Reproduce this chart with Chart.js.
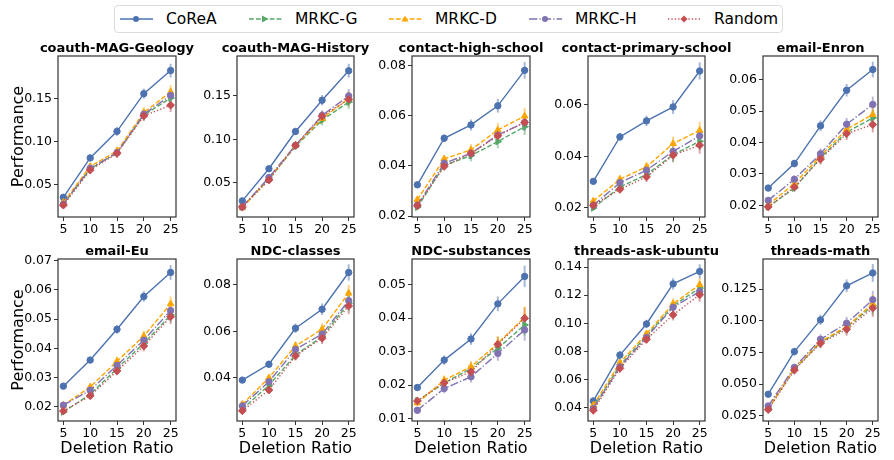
<!DOCTYPE html>
<html>
<head>
<meta charset="utf-8">
<script src="https://cdn.jsdelivr.net/npm/chart.js@4.4.0/dist/chart.umd.min.js"></script>
<style>
  body { margin: 0; width: 894px; height: 460px; overflow: hidden; background: #fff; position: relative; font-family: "DejaVu Sans"; }
  canvas { position: absolute; }
  #legend { position: absolute; left: 114px; top: 5px; width: 669px; height: 28px; border: 1px solid #dcdcdc; border-radius: 4px; box-sizing: border-box; }
  .item { position: absolute; top: 0; height: 26px; line-height: 26px; font-size: 15.5px; color: #000; white-space: nowrap; }
  .item svg { position: absolute; top: 8px; left: 0; }
  .item span { position: absolute; left: 46px; }
</style>
</head>
<body>
<div id="legend"></div>
<script>
const deletionRatios = [5, 10, 15, 20, 25];
const panelNames = ['coauth-MAG-Geology', 'coauth-MAG-History', 'contact-high-school', 'contact-primary-school', 'email-Enron',
                    'email-Eu', 'NDC-classes', 'NDC-substances', 'threads-ask-ubuntu', 'threads-math'];

const coreaVals = [
  [0.035, 0.081, 0.112, 0.156, 0.183],
  [0.029, 0.066, 0.109, 0.145, 0.179],
  [0.0325, 0.051, 0.0563, 0.0639, 0.078],
  [0.0303, 0.0475, 0.0537, 0.0591, 0.073],
  [0.0255, 0.0333, 0.0453, 0.0566, 0.0632],
  [0.0271, 0.036, 0.0465, 0.0577, 0.0659],
  [0.039, 0.0458, 0.0613, 0.0695, 0.0853],
  [0.0193, 0.0275, 0.0338, 0.0443, 0.0525],
  [0.0448, 0.0774, 0.0995, 0.128, 0.1369],
  [0.0421, 0.0757, 0.1007, 0.1276, 0.1377]
];
const mrkcGVals = [
  [0.027, 0.068, 0.087, 0.131, 0.151],
  [0.022, 0.054, 0.092, 0.122, 0.143],
  [0.0236, 0.0402, 0.0441, 0.0497, 0.0556],
  [0.020, 0.0281, 0.0329, 0.0406, 0.0458],
  [0.0195, 0.0255, 0.0351, 0.0433, 0.0478],
  [0.0183, 0.0243, 0.0331, 0.0417, 0.0514],
  [0.0265, 0.0368, 0.0498, 0.0577, 0.0721],
  [0.0153, 0.0207, 0.025, 0.031, 0.038],
  [0.040, 0.0702, 0.091, 0.1124, 0.125],
  [0.0308, 0.0617, 0.0828, 0.0949, 0.1118]
];
const mrkcDVals = [
  [0.029, 0.071, 0.089, 0.134, 0.158],
  [0.021, 0.055, 0.093, 0.124, 0.147],
  [0.0266, 0.0428, 0.0464, 0.0543, 0.0598],
  [0.0227, 0.0311, 0.0359, 0.0449, 0.050],
  [0.0202, 0.0269, 0.0357, 0.0442, 0.0489],
  [0.0206, 0.0268, 0.0356, 0.0442, 0.0552],
  [0.0286, 0.040, 0.0537, 0.0609, 0.0764],
  [0.0147, 0.0215, 0.0255, 0.0325, 0.0403],
  [0.0417, 0.0719, 0.0924, 0.1138, 0.1274],
  [0.0308, 0.0625, 0.0836, 0.0954, 0.1134]
];
const mrkcHVals = [
  [0.027, 0.069, 0.087, 0.132, 0.154],
  [0.022, 0.056, 0.093, 0.1275, 0.150],
  [0.0244, 0.0411, 0.045, 0.0523, 0.0573],
  [0.021, 0.0298, 0.0346, 0.0419, 0.0479],
  [0.0216, 0.0283, 0.0364, 0.0458, 0.0521],
  [0.0206, 0.0257, 0.0342, 0.0428, 0.0529],
  [0.0279, 0.0383, 0.0522, 0.0588, 0.0732],
  [0.0125, 0.019, 0.0225, 0.0295, 0.0365],
  [0.0393, 0.069, 0.090, 0.1114, 0.1226],
  [0.0329, 0.0632, 0.0854, 0.0981, 0.1166]
];
const randomVals = [
  [0.0258, 0.0668, 0.0863, 0.130, 0.1426],
  [0.022, 0.053, 0.093, 0.1265, 0.146],
  [0.0242, 0.0398, 0.045, 0.052, 0.0573],
  [0.021, 0.0272, 0.032, 0.0404, 0.0443],
  [0.0195, 0.0258, 0.0347, 0.0428, 0.0457],
  [0.0186, 0.0238, 0.0323, 0.0408, 0.0508],
  [0.0258, 0.0347, 0.0494, 0.057, 0.0709],
  [0.0153, 0.0207, 0.024, 0.0322, 0.040],
  [0.0381, 0.0679, 0.0886, 0.106, 0.1202],
  [0.030, 0.0611, 0.0823, 0.0933, 0.11]
];
// half-length of the error bars, per panel and deletion ratio
const errVals = [
  [0.003, 0.004, 0.005, 0.006, 0.008],
  [0.003, 0.003, 0.004, 0.006, 0.008],
  [0.001, 0.0015, 0.0022, 0.0027, 0.0033],
  [0.001, 0.0015, 0.002, 0.0027, 0.0033],
  [0.0008, 0.0012, 0.0017, 0.002, 0.0025],
  [0.0007, 0.001, 0.0015, 0.0018, 0.0025],
  [0.001, 0.0015, 0.002, 0.0025, 0.0035],
  [0.001, 0.0014, 0.0017, 0.0022, 0.0032],
  [0.002, 0.003, 0.003, 0.004, 0.005],
  [0.002, 0.003, 0.004, 0.005, 0.007]
];

const yMins = [0.012, 0.0104, 0.0197, 0.0165, 0.0163, 0.0152, 0.0214, 0.0093, 0.0305, 0.021];
const yMaxs = [0.200, 0.196, 0.0837, 0.0788, 0.0675, 0.0705, 0.0911, 0.0577, 0.1457, 0.1487];
const yTicks = [
  [0.05, 0.10, 0.15],
  [0.05, 0.10, 0.15],
  [0.02, 0.04, 0.06, 0.08],
  [0.02, 0.04, 0.06],
  [0.02, 0.03, 0.04, 0.05, 0.06],
  [0.02, 0.03, 0.04, 0.05, 0.06, 0.07],
  [0.04, 0.06, 0.08],
  [0.01, 0.02, 0.03, 0.04, 0.05],
  [0.04, 0.06, 0.08, 0.10, 0.12, 0.14],
  [0.025, 0.050, 0.075, 0.100, 0.125]
];
const yDecimals = [2, 2, 2, 2, 2, 2, 2, 2, 2, 3];
const xTicks = [5, 10, 15, 20, 25];

const seriesNames = ['CoReA', 'MRKC-G', 'MRKC-D', 'MRKC-H', 'Random'];
const seriesData = [coreaVals, mrkcGVals, mrkcDVals, mrkcHVals, randomVals];
const seriesColors = ['#4c72b0', '#55a868', '#ffa500', '#8172b2', '#c44e52'];
const seriesDash = [[], [4.8, 2.1], [4.8, 2.1], [8.3, 2.1, 1.3, 2.1], [1.3, 2.1]];
const seriesPoint = ['circle', 'triangle', 'triangle', 'circle', 'rectRot'];
const seriesRotation = [0, 90, 0, 0, 0];
const seriesRadius = [3.2, 3.8, 3.8, 3.2, 3.9];

// plot area positions of the grid
const plotLefts = [58, 237, 412, 588, 763];
const plotRights = [176, 354, 530, 705, 878];
const rowTops = [56, 259];
const rowBottoms = [217, 421];

Chart.defaults.font.family = '"DejaVu Sans"';
Chart.defaults.color = '#000';

function alpha(hex, a) {
  const n = parseInt(hex.slice(1), 16);
  return `rgba(${n >> 16},${(n >> 8) & 255},${n & 255},${a})`;
}

// vertical error bars drawn through the chart scales
const errorBars = {
  id: 'errorBars',
  beforeDatasetsDraw(chart) {
    const { ctx, scales: { x, y } } = chart;
    chart.data.datasets.slice().reverse().forEach(ds => {
      ctx.save();
      ctx.strokeStyle = alpha(ds.borderColor, 0.5);
      ctx.lineWidth = 2;
      ds.data.forEach((p, j) => {
        const px = x.getPixelForValue(p.x);
        ctx.beginPath();
        ctx.moveTo(px, y.getPixelForValue(p.y - ds.errors[j]));
        ctx.lineTo(px, y.getPixelForValue(p.y + ds.errors[j]));
        ctx.stroke();
      });
      ctx.restore();
    });
  }
};

// frame around the plot area and the panel title
const frameAndTitle = {
  id: 'frameAndTitle',
  afterDraw(chart, args, opts) {
    const { ctx, chartArea: a } = chart;
    ctx.save();
    ctx.strokeStyle = '#333';
    ctx.lineWidth = 1.2;
    ctx.strokeRect(a.left, a.top, a.right - a.left, a.bottom - a.top);
    ctx.font = 'bold 13px "DejaVu Sans"';
    ctx.fillStyle = '#000';
    ctx.textAlign = 'center';
    ctx.textBaseline = 'alphabetic';
    ctx.fillText(opts.text, (a.left + a.right) / 2, a.top - 4);
    ctx.restore();
  }
};

const TOP_PAD = 24, RIGHT_PAD = 40;

panelNames.forEach((name, i) => {
  const row = Math.floor(i / 5), col = i % 5;
  const yw = col === 0 ? plotLefts[0] : 60;
  const xh = row === 0 ? 22 : 38;
  const plotW = plotRights[col] - plotLefts[col];
  const plotH = rowBottoms[row] - rowTops[row];
  const canvas = document.createElement('canvas');
  canvas.width = yw + plotW + RIGHT_PAD;
  canvas.height = TOP_PAD + plotH + xh;
  canvas.style.left = (plotLefts[col] - yw) + 'px';
  canvas.style.top = (rowTops[row] - TOP_PAD) + 'px';
  document.body.appendChild(canvas);

  const datasets = seriesNames.map((s, k) => ({
    label: s,
    data: deletionRatios.map((r, j) => ({ x: r, y: seriesData[k][i][j] })),
    errors: errVals[i],
    borderColor: seriesColors[k],
    backgroundColor: seriesColors[k],
    borderWidth: 1.4,
    borderDash: seriesDash[k],
    pointStyle: seriesPoint[k],
    rotation: seriesRotation[k],
    pointRadius: seriesRadius[k],
    pointBorderWidth: 1,
    tension: 0,
    order: 4 - k
  }));

  new Chart(canvas, {
    type: 'line',
    data: { datasets },
    options: {
      responsive: false,
      animation: false,
      layout: { padding: { top: TOP_PAD, right: RIGHT_PAD, left: 0, bottom: 0 } },
      plugins: {
        legend: { display: false },
        tooltip: { enabled: false },
        frameAndTitle: { text: name }
      },
      scales: {
        x: {
          type: 'linear',
          min: 4, max: 26,
          afterBuildTicks: sc => { sc.ticks = xTicks.map(v => ({ value: v })); },
          afterFit: sc => { sc.height = xh; },
          ticks: { font: { size: 12.5 }, padding: 1, maxRotation: 0, autoSkip: false },
          grid: { drawOnChartArea: false, drawTicks: true, tickLength: 4, color: '#333' },
          border: { display: false },
          title: { display: row === 1, text: 'Deletion Ratio', font: { size: 16 }, padding: { top: 0, bottom: 0.5 } }
        },
        y: {
          type: 'linear',
          min: yMins[i], max: yMaxs[i],
          afterBuildTicks: sc => { sc.ticks = yTicks[i].map(v => ({ value: v })); },
          afterFit: sc => { sc.width = yw; },
          ticks: { font: { size: 12.5 }, padding: 2, autoSkip: false, callback: v => v.toFixed(yDecimals[i]) },
          grid: { drawOnChartArea: false, drawTicks: true, tickLength: 4, color: '#333' },
          border: { display: false },
          title: { display: col === 0, text: 'Performance', font: { size: 16 }, padding: { top: 9, bottom: 0 } }
        }
      }
    },
    plugins: [errorBars, frameAndTitle]
  });
});

// legend: line sample with marker, then the series name
const legendLefts = [5, 134, 274, 414, 553];
const legend = document.getElementById('legend');
seriesNames.forEach((s, k) => {
  const c = seriesColors[k];
  const dash = seriesDash[k].length ? `stroke-dasharray="${seriesDash[k].join(' ')}"` : '';
  let marker;
  if (seriesPoint[k] === 'circle') marker = `<circle cx="16" cy="5" r="3" fill="${c}"/>`;
  else if (seriesPoint[k] === 'rectRot') marker = `<polygon points="16,1.4 19.6,5 16,8.6 12.4,5" fill="${c}"/>`;
  else if (seriesRotation[k] === 90) marker = `<polygon points="19.6,5 13,1.5 13,8.5" fill="${c}"/>`;
  else marker = `<polygon points="16,1.4 19.5,7.6 12.5,7.6" fill="${c}"/>`;
  const div = document.createElement('div');
  div.className = 'item';
  div.style.left = legendLefts[k] + 'px';
  div.innerHTML = `<svg width="33" height="10"><line x1="0" y1="5" x2="33" y2="5" stroke="${c}" stroke-width="1.3" ${dash}/>${marker}</svg><span>${s}</span>`;
  legend.appendChild(div);
});
</script>
</body>
</html>
